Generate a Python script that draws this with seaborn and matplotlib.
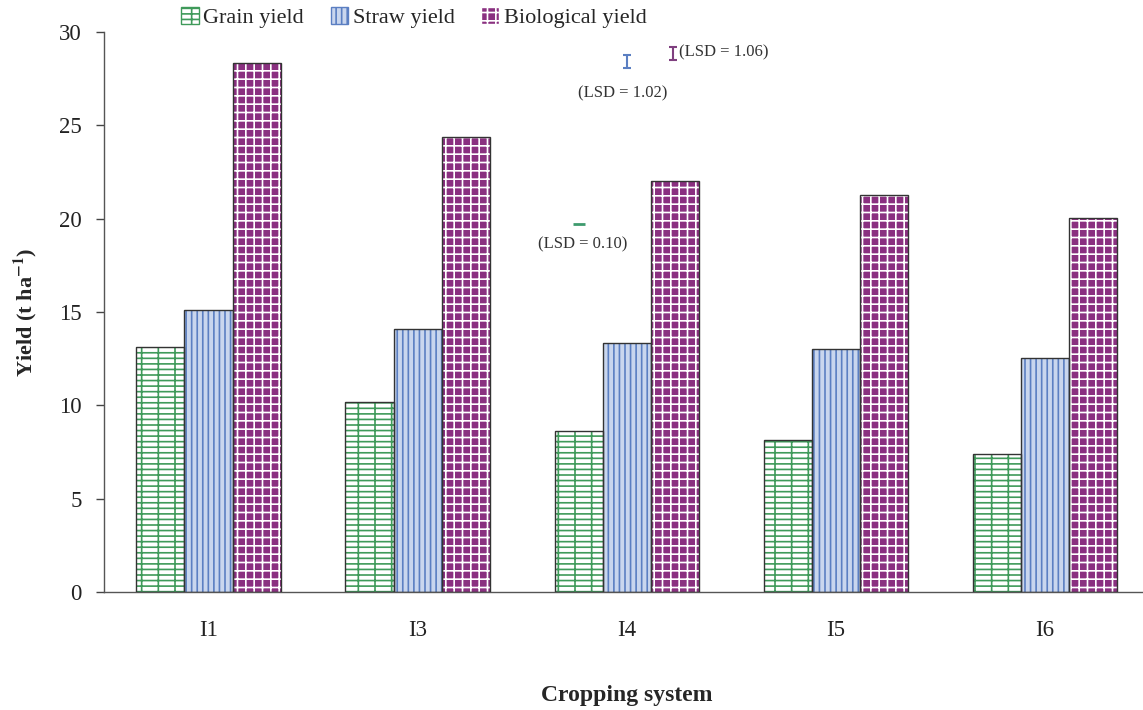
import matplotlib
matplotlib.use("Agg")
import matplotlib.pyplot as plt
from matplotlib.patches import Rectangle, Patch
import seaborn as sns
import pandas as pd

categories = ["I1", "I3", "I4", "I5", "I6"]
grain_yield = [13.1, 10.2, 8.62, 8.14, 7.4]
straw_yield = [15.1, 14.07, 13.33, 13.02, 12.53]
biological_yield = [28.33, 24.37, 22.0, 21.25, 20.03]
series_names = ["Grain yield", "Straw yield", "Biological yield"]
yticks = [0, 5, 10, 15, 20, 25, 30]

lsd_values = [0.10, 1.02, 1.06]
lsd_labels = ["(LSD = 0.10)", "(LSD = 1.02)", "(LSD = 1.06)"]

rows = []
for name, vals in zip(series_names, [grain_yield, straw_yield, biological_yield]):
    for c, v in zip(categories, vals):
        rows.append({"Cropping system": c, "Series": name, "Yield": v})
df = pd.DataFrame(rows)

sns.set_theme(style="white")
plt.rcParams["font.family"] = ["Liberation Serif", "DejaVu Serif"]
plt.rcParams["mathtext.fontset"] = "stix"
plt.rcParams["hatch.linewidth"] = 1.2

styles = {
    "Grain yield": dict(face="white", hatch="--+", hc="#3f9a5a"),
    "Straw yield": dict(face="#c9d6ee", hatch="|||", hc="#5b7fc2"),
    "Biological yield": dict(face="#8a3080", hatch="++", hc="white"),
}

fig = plt.figure(figsize=(11.43, 7.10), dpi=100)
ax = fig.add_axes([0.0909, 0.1662, 0.915, 0.7888])

sns.barplot(data=df, x="Cropping system", y="Yield", hue="Series",
            hue_order=series_names, order=categories, width=0.69, gap=0,
            palette=["white", "white", "white"], legend=False, ax=ax)

bars = list(ax.patches)
n = len(categories)
for i, p in enumerate(bars):
    s = styles[series_names[i // n]]
    p.set_facecolor(s["face"])
    p.set_edgecolor(s["hc"])
    p.set_hatch(s["hatch"])
    p.set_linewidth(0)
    ax.add_patch(Rectangle((p.get_x(), p.get_y()), p.get_width(), p.get_height(),
                           fill=False, edgecolor="#333333", linewidth=1.0, zorder=3))

ax.set_ylim(0, 30)
ax.set_xlim(-0.5, 4.5)
ax.set_yticks(yticks)
ax.set_yticklabels([str(t) for t in yticks], fontsize=16.5, color="#222222")
ax.set_xticks(range(n))
ax.set_xticklabels(categories, fontsize=16.5, color="#222222")
ax.set_xticks([i - 0.5 for i in range(n + 1)], minor=True)
ax.tick_params(axis="x", which="major", length=0, pad=20)
ax.tick_params(axis="x", which="minor", length=6, width=1, color="#444444", direction="out")
ax.tick_params(axis="y", length=6, width=1, color="#444444", direction="out", pad=10, left=True)
for sp in ["top", "right"]:
    ax.spines[sp].set_visible(False)
for sp in ["left", "bottom"]:
    ax.spines[sp].set_color("#555555")
    ax.spines[sp].set_linewidth(1.0)

ax.set_xlabel("Cropping system", fontsize=17, fontweight="bold", labelpad=32)
ax.set_ylabel(r"Yield (t ha$^{\mathbf{-1}}$)", fontsize=16, fontweight="bold", labelpad=14)

lsd_colors = ["#3e9b6e", "#5b7fc2", "#7f3f7f"]
lsd_x = [1.77, 2.0, 2.22]
lsd_y = [19.7, 28.4, 28.85]
for v, x, y, c in zip(lsd_values, lsd_x, lsd_y, lsd_colors):
    if v > 0.5:
        ax.errorbar([x], [y], yerr=[v / 3], fmt="none", ecolor=c, elinewidth=1.5,
                    capsize=3, capthick=1.5)
    else:
        ax.plot([x], [y], marker="_", markersize=8, mew=2, color=c)
ax.text(1.79, 18.6, lsd_labels[0], fontsize=12, ha="center", va="center", color="#333333")
ax.text(1.98, 26.7, lsd_labels[1], fontsize=12, ha="center", va="center", color="#333333")
ax.text(2.25, 28.9, lsd_labels[2], fontsize=12, ha="left", va="center", color="#333333")

handles = [Patch(facecolor=styles[nm]["face"], edgecolor=styles[nm]["hc"], hatch=styles[nm]["hatch"],
                 label=nm) for nm in series_names]
fig.legend(handles=handles, loc="center", bbox_to_anchor=(0.362, 0.975), ncol=3,
           frameon=False, fontsize=16, handlelength=0.8, handleheight=0.8,
           handletextpad=0.2, columnspacing=1.2)

fig.savefig("out.png", dpi=100)
